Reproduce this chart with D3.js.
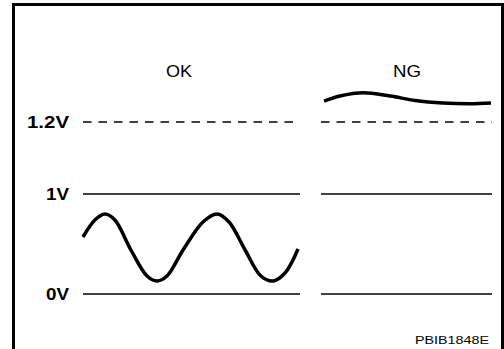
<!DOCTYPE html>
<html>
<head>
<meta charset="utf-8">
<script src="https://cdn.jsdelivr.net/npm/d3@7"></script>
<style>
  html, body { margin: 0; padding: 0; background: #fff; }
  svg { display: block; }
  text { font-family: "Liberation Sans", Arial, sans-serif; fill: #000; }
</style>
</head>
<body>
<svg id="chart" width="504" height="349"></svg>
<script>
// reference levels (volts)
const levels = [0, 1, 1.2];
const levelLabels = ["0V", "1V", "1.2V"];
const panels = ["OK", "NG"];
const figCode = "PBIB1848E";

// OK waveform: time (0-100) / volts
const okTime = [0, 5.5, 10.1, 14.7, 22.1, 29.5, 34.1, 38.7, 46.1, 55.3, 61.8, 67.3, 74.7, 82.0, 87.6, 93.1, 99.1];
const okVolt = [0.57, 0.74, 0.80, 0.74, 0.44, 0.18, 0.13, 0.18, 0.44, 0.72, 0.80, 0.72, 0.44, 0.18, 0.13, 0.21, 0.45];

// NG waveform: stays above 1.2V
const ngTime = [1.8, 11.1, 24.6, 40.4, 55, 71.3, 87.1, 99.4];
const ngVolt = [1.258, 1.272, 1.281, 1.272, 1.260, 1.253, 1.251, 1.253];

const svg = d3.select("#chart");

const y = d3.scaleLinear().domain(levels).range([294, 194, 122]);
const x = {
  OK: d3.scaleLinear().domain([0, 100]).range([83, 300]),
  NG: d3.scaleLinear().domain([0, 100]).range([321, 492])
};

// frame (open at the bottom)
svg.append("path")
  .attr("d", "M13.5,349 L13.5,4.5 L502.5,4.5 L502.5,349")
  .style("fill", "none")
  .style("stroke", "#000")
  .style("stroke-width", 3);

// level lines per panel
panels.forEach(p => {
  levels.forEach(v => {
    svg.append("line")
      .attr("x1", x[p](0))
      .attr("x2", x[p](100))
      .attr("y1", y(v))
      .attr("y2", y(v))
      .style("stroke", "#000")
      .style("stroke-width", 1.5)
      .style("stroke-dasharray", v === 1.2 ? "8.5,7" : null);
  });
});

// level labels
const labelWidths = { "0V": 23, "1V": 23, "1.2V": 42 };
levels.forEach((v, i) => {
  svg.append("text")
    .attr("x", 69)
    .attr("y", y(v) + 6)
    .attr("text-anchor", "end")
    .attr("textLength", labelWidths[levelLabels[i]])
    .attr("lengthAdjust", "spacingAndGlyphs")
    .style("font-size", "16px")
    .style("font-weight", "bold")
    .text(levelLabels[i]);
});

// panel titles
const titleWidths = { OK: 26, NG: 28 };
const titleX = { OK: 179, NG: 407 };
panels.forEach(p => {
  svg.append("text")
    .attr("x", titleX[p])
    .attr("y", 77)
    .attr("text-anchor", "middle")
    .attr("textLength", titleWidths[p])
    .attr("lengthAdjust", "spacingAndGlyphs")
    .style("font-size", "16px")
    .text(p);
});

// waveforms
const line = xs => d3.line()
  .x(d => xs(d[0]))
  .y(d => y(d[1]))
  .curve(d3.curveCatmullRom.alpha(0.5));

svg.append("path")
  .datum(okTime.map((t, i) => [t, okVolt[i]]))
  .attr("d", line(x.OK))
  .style("fill", "none")
  .style("stroke", "#000")
  .style("stroke-width", 3.5)
  .style("stroke-linecap", "butt");

svg.append("path")
  .datum(ngTime.map((t, i) => [t, ngVolt[i]]))
  .attr("d", line(x.NG))
  .style("fill", "none")
  .style("stroke", "#000")
  .style("stroke-width", 3.5);

// figure code
svg.append("text")
  .attr("x", 489)
  .attr("y", 344)
  .attr("text-anchor", "end")
  .attr("textLength", 74)
  .attr("lengthAdjust", "spacingAndGlyphs")
  .style("font-size", "11px")
  .text(figCode);
</script>
</body>
</html>
